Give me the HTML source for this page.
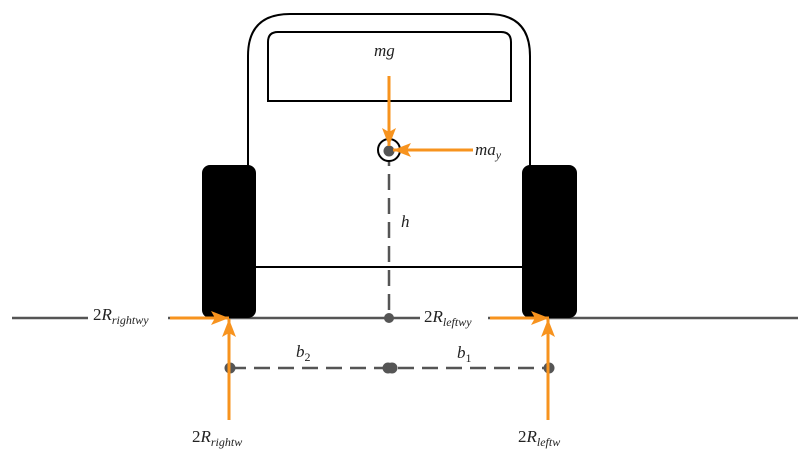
<!DOCTYPE html>
<html><head><style>html,body{margin:0;padding:0;background:#fff}svg{display:block}text{font-family:"Liberation Serif",serif;font-style:italic;fill:#222}</style></head>
<body>
<svg width="810" height="458" viewBox="0 0 810 458" xmlns="http://www.w3.org/2000/svg">
<defs>
<marker id="ah" markerWidth="18" markerHeight="14" refX="18" refY="7" orient="auto" markerUnits="userSpaceOnUse" viewBox="0 0 18 14"><path d="M0,0 L18,7 L0,14 L4,7 z" fill="#f7931e"/></marker>
</defs>
<path d="M248,190 L248,56 Q248,14 290,14 L488,14 Q530,14 530,56 L530,190" fill="none" stroke="#000" stroke-width="2"/>
<path d="M268,101 L268,42 Q268,32 278,32 L501,32 Q511,32 511,42 L511,101 Z" fill="none" stroke="#000" stroke-width="2"/>
<line x1="255" y1="267" x2="523" y2="267" stroke="#000" stroke-width="2"/>
<line x1="12" y1="318" x2="798" y2="318" stroke="#555" stroke-width="2.5"/>
<rect x="202" y="165" width="54" height="153" rx="8" fill="#000"/>
<rect x="522" y="165" width="55" height="153" rx="8" fill="#000"/>
<line x1="389" y1="150" x2="389" y2="318" stroke="#555" stroke-width="2.5" stroke-dasharray="16,8"/>
<circle cx="389" cy="318" r="5" fill="#555"/>
<circle cx="389" cy="150" r="11" fill="#fff" stroke="#000" stroke-width="2"/>
<circle cx="389" cy="151" r="5.5" fill="#555"/>
<line x1="230" y1="368" x2="549" y2="368" stroke="#555" stroke-width="2.5" stroke-dasharray="16,8"/>
<circle cx="230" cy="368" r="5.5" fill="#555"/>
<circle cx="388" cy="368" r="5.5" fill="#555"/>
<circle cx="392" cy="368" r="5.5" fill="#555"/>
<circle cx="549" cy="368" r="5.5" fill="#555"/>
<rect x="88" y="306" width="80" height="22" fill="#fff"/>
<rect x="420" y="306" width="68" height="22" fill="#fff"/>
<g stroke="#f7931e" stroke-width="3" fill="none">
<line x1="389" y1="76" x2="389" y2="146" marker-end="url(#ah)"/>
<line x1="473" y1="150" x2="393" y2="150" marker-end="url(#ah)"/>
<line x1="170" y1="318" x2="229" y2="318" marker-end="url(#ah)"/>
<line x1="229" y1="420" x2="229" y2="319" marker-end="url(#ah)"/>
<line x1="490" y1="318" x2="549" y2="318" marker-end="url(#ah)"/>
<line x1="548" y1="420" x2="548" y2="319" marker-end="url(#ah)"/>
</g>
<text x="374" y="56" font-size="17">mg</text>
<text x="475" y="155" font-size="17">ma<tspan font-size="12" dy="4">y</tspan></text>
<text x="401" y="227" font-size="17">h</text>
<text x="296" y="357" font-size="17">b<tspan font-size="12" dy="4" font-style="normal">2</tspan></text>
<text x="457" y="358" font-size="17">b<tspan font-size="12" dy="4" font-style="normal">1</tspan></text>
<text x="93" y="320" font-size="17"><tspan font-style="normal">2</tspan>R<tspan font-size="12" dy="4">rightwy</tspan></text>
<text x="424" y="322" font-size="17"><tspan font-style="normal">2</tspan>R<tspan font-size="12" dy="4">leftwy</tspan></text>
<text x="192" y="442" font-size="17"><tspan font-style="normal">2</tspan>R<tspan font-size="12" dy="4">rightw</tspan></text>
<text x="518" y="442" font-size="17"><tspan font-style="normal">2</tspan>R<tspan font-size="12" dy="4">leftw</tspan></text>
</svg>
</body></html>
